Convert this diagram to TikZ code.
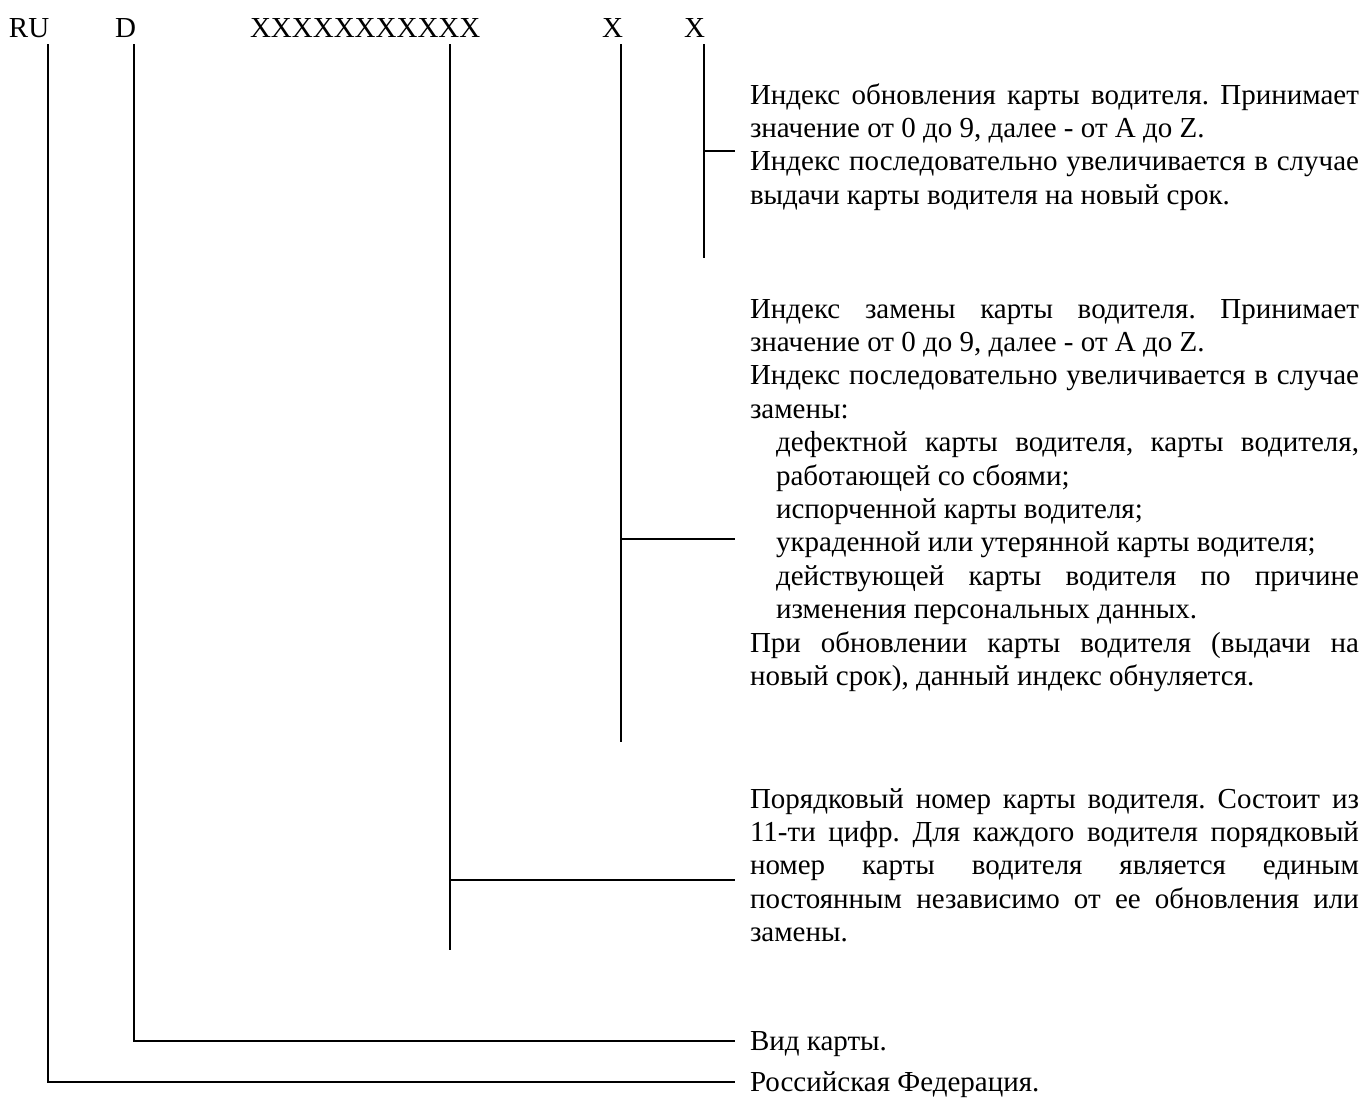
\documentclass[tikz,border=0pt]{standalone}
\usepackage{fontspec}
\setmainfont{Liberation Serif}
\setlength{\parindent}{0pt}
\frenchspacing

\begin{document}
\begin{tikzpicture}[x=0.5pt,y=-0.5pt,line width=1pt,
  lbl/.style={anchor=base west,inner sep=0pt,font=\fontsize{14.5pt}{16.7pt}\selectfont},
  note/.style={anchor=base west,text width=304.5pt,align=justify,inner xsep=7pt,inner ysep=0pt,
    font=\fontsize{14.5pt}{16.7pt}\selectfont},
  leaf/.style={anchor=west,inner xsep=7pt,inner ysep=0pt,text height=9.6pt,text depth=0pt,
    font=\fontsize{14.5pt}{16.7pt}\selectfont}]
\useasboundingbox (0,0) rectangle (1365,1099);
% Card number:
\node (ru) [lbl] at (8,37) {RU};
\node (d) [lbl] at (114,37) {D};
\node (num) [lbl] at (249,37) {XXXXXXXXXXX};
\node (xa) [lbl] at (601,37) {X};
\node (xb) [lbl] at (683,37) {X};
% Explanations:
\node (t1) [note] at (735,104) {Индекс обновления карты водителя. Принимает\linebreak
  значение от 0 до 9, далее - от A до Z.\par
  Индекс последовательно увеличивается в случае\linebreak
  выдачи карты водителя на новый срок.};
\node (t2) [note] at (735,318) {Индекс замены карты водителя. Принимает\linebreak
  значение от 0 до 9, далее - от A до Z.\par
  Индекс последовательно увеличивается в случае\linebreak
  замены:\par
  \leftskip=13pt дефектной карты водителя, карты водителя,\linebreak
  работающей со сбоями;\par
  испорченной карты водителя;\par
  украденной или утерянной карты водителя;\par
  действующей карты водителя по причине\linebreak
  изменения персональных данных.\par
  \leftskip=0pt При обновлении карты водителя (выдачи на\linebreak
  новый срок), данный индекс обнуляется.};
\node (t3) [note] at (735,808) {Порядковый номер карты водителя. Состоит из\linebreak
  11-ти цифр. Для каждого водителя порядковый\linebreak
  номер карты водителя является единым\linebreak
  постоянным независимо от ее обновления или\linebreak
  замены.};
\node (t4) [leaf] at (735,1041) {Вид карты.};
\node (t5) [leaf] at (735,1082) {Российская Федерация.};
% Leader lines:
\coordinate (xb-top) at (704,44);
\coordinate (xb-end) at (704,258);
\coordinate (xb-br) at (704,151);
\coordinate (xa-top) at (621,44);
\coordinate (xa-end) at (621,742);
\coordinate (xa-br) at (621,539);
\coordinate (num-top) at (450,44);
\coordinate (num-end) at (450,950);
\coordinate (num-br) at (450,880);
\coordinate (d-top) at (134,44);
\coordinate (ru-top) at (48,44);
\draw (xb-top) -- (xb-end);
\draw (xb-br) -- (xb-br -| t1.west);
\draw (xa-top) -- (xa-end);
\draw (xa-br) -- (xa-br -| t2.west);
\draw (num-top) -- (num-end);
\draw (num-br) -- (num-br -| t3.west);
\draw (d-top) |- (t4.west);
\draw (ru-top) |- (t5.west);
\end{tikzpicture}
\end{document}
